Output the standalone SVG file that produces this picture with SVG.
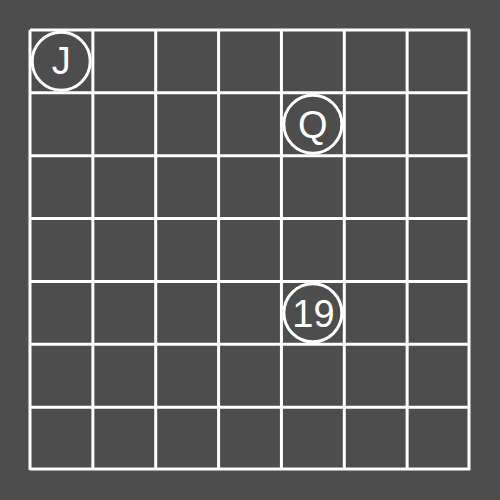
<svg xmlns="http://www.w3.org/2000/svg" width="500" height="500" viewBox="0 0 500 500">
<style>
.grid line{stroke:#fff;stroke-width:3}
.node circle{fill:#4d4d4d;stroke:#fff;stroke-width:3}
.node text{fill:#fff;font-family:"Liberation Sans",Arial,sans-serif;text-anchor:middle}
</style>
<rect width="500" height="500" fill="#4d4d4d"/>
<g class="grid" id="connectors">
<line x1="30" y1="30" x2="30" y2="470"/>
<line x1="92.86" y1="30" x2="92.86" y2="470"/>
<line x1="155.71" y1="30" x2="155.71" y2="470"/>
<line x1="218.57" y1="30" x2="218.57" y2="470"/>
<line x1="281.43" y1="30" x2="281.43" y2="470"/>
<line x1="344.29" y1="30" x2="344.29" y2="470"/>
<line x1="407.14" y1="30" x2="407.14" y2="470"/>
<line x1="469" y1="30" x2="469" y2="470"/>
<line x1="30" y1="30" x2="470" y2="30"/>
<line x1="30" y1="92.86" x2="470" y2="92.86"/>
<line x1="30" y1="155.71" x2="470" y2="155.71"/>
<line x1="30" y1="218.57" x2="470" y2="218.57"/>
<line x1="30" y1="281.43" x2="470" y2="281.43"/>
<line x1="30" y1="344.29" x2="470" y2="344.29"/>
<line x1="30" y1="407.14" x2="470" y2="407.14"/>
<line x1="30" y1="469" x2="470" y2="469"/>
</g>
<g class="node" id="node-J"><circle cx="61.2" cy="61.2" r="29"/><text x="61.2" y="74" font-size="38">J</text></g>
<g class="node" id="node-Q"><circle cx="312.86" cy="124.29" r="29"/><text x="312.86" y="137.5" font-size="38">Q</text></g>
<g class="node" id="node-19"><circle cx="312.86" cy="312.86" r="29"/><text x="313.5" y="326.5" font-size="38">19</text></g>
</svg>
